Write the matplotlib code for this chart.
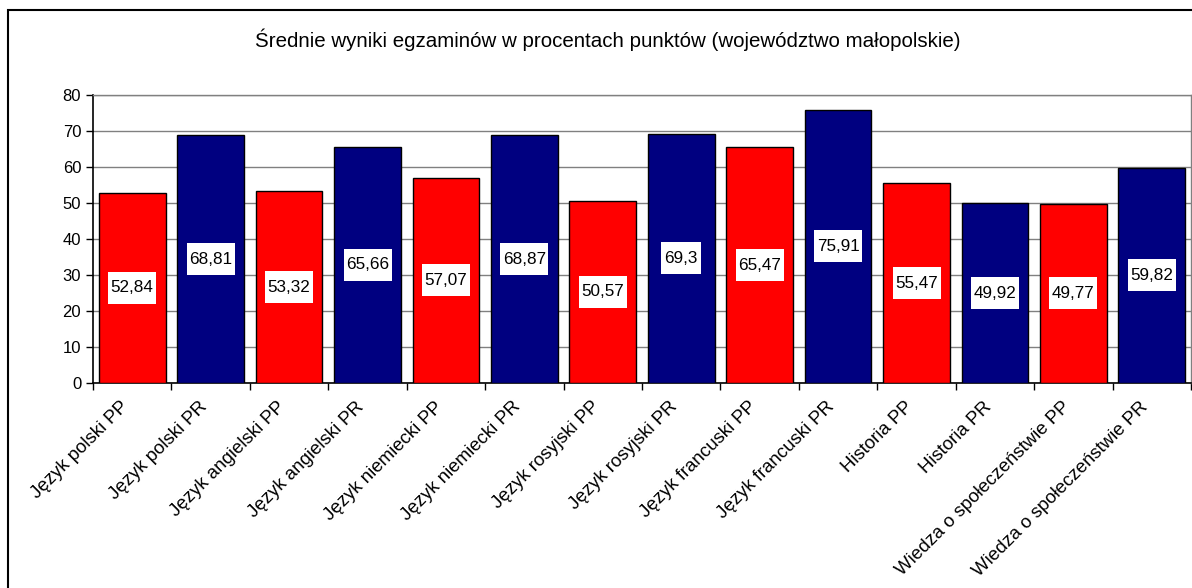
import numpy as np
import matplotlib.pyplot as plt
from matplotlib.patches import Rectangle
from matplotlib.transforms import IdentityTransform, ScaledTranslation

plt.rcParams['font.family'] = ['Liberation Sans', 'DejaVu Sans']

categories = ['Język polski PP', 'Język polski PR', 'Język angielski PP', 'Język angielski PR',
              'Język niemiecki PP', 'Język niemiecki PR', 'Język rosyjski PP', 'Język rosyjski PR',
              'Język francuski PP', 'Język francuski PR', 'Historia PP', 'Historia PR',
              'Wiedza o społeczeństwie PP', 'Wiedza o społeczeństwie PR']
values = [52.84, 68.81, 53.32, 65.66, 57.07, 68.87, 50.57, 69.3, 65.47, 75.91,
          55.47, 49.92, 49.77, 59.82]
value_labels = ['52,84', '68,81', '53,32', '65,66', '57,07', '68,87', '50,57', '69,3',
                '65,47', '75,91', '55,47', '49,92', '49,77', '59,82']
colors = ['#FF0000' if i % 2 == 0 else '#000080' for i in range(len(values))]

fig = plt.figure(figsize=(11.92, 5.88), dpi=100)
ax = fig.add_axes([93/1192, 1 - 383/588, 1098/1192, 288/588])

x = np.arange(len(values))
ax.bar(x, values, width=0.85, color=colors, edgecolor='black', linewidth=1, zorder=3)

# white label boxes, fixed pixel size, centred in each bar
for xi, v, lab in zip(x, values, value_labels):
    w = 48 if len(lab) == 5 else 40
    box = Rectangle((-w / 2, -16), w, 32, facecolor='white', edgecolor='none', zorder=4,
                    transform=IdentityTransform() + ScaledTranslation(xi, v / 2, ax.transData))
    ax.add_patch(box)
    ax.text(xi, v / 2, lab, ha='center', va='center', fontsize=12.3, zorder=5)

ax.set_xlim(-0.5, len(values) - 0.5)
ax.set_ylim(0, 80)
ax.set_yticks(range(0, 81, 10))
ax.tick_params(axis='y', labelsize=12, direction='out', length=5, width=1, color='black')
ax.yaxis.grid(True, color='#808080', linewidth=1)
ax.set_axisbelow(True)

ax.set_xticks(np.arange(-0.5, len(values), 1))
ax.set_xticklabels([])
ax.tick_params(axis='x', direction='out', length=5, width=1)
ax.set_xticks(x, minor=True)
ax.set_xticklabels(categories, minor=True, rotation=45, ha='right', va='top', fontsize=13.4)
ax.tick_params(axis='x', which='minor', length=0, pad=11)
offset = ScaledTranslation(0, 0, fig.dpi_scale_trans)
for lbl in ax.get_xticklabels(minor=True):
    lbl.set_transform(lbl.get_transform() + offset)

for s in ['left', 'bottom']:
    ax.spines[s].set_color('black')
    ax.spines[s].set_linewidth(1.2)
for s in ['top', 'right']:
    ax.spines[s].set_color('#808080')
    ax.spines[s].set_linewidth(1)

fig.text(608/1192, 1 - 40/588, 'Średnie wyniki egzaminów w procentach punktów (województwo małopolskie)',
         ha='center', va='center', fontsize=14.8)

fig.patches.append(Rectangle((8/1192, -0.1), 1.2, 1 - 10/588 + 0.1, transform=fig.transFigure,
                             fill=False, edgecolor='black', linewidth=1.5))

fig.savefig('out.png', dpi=100)
